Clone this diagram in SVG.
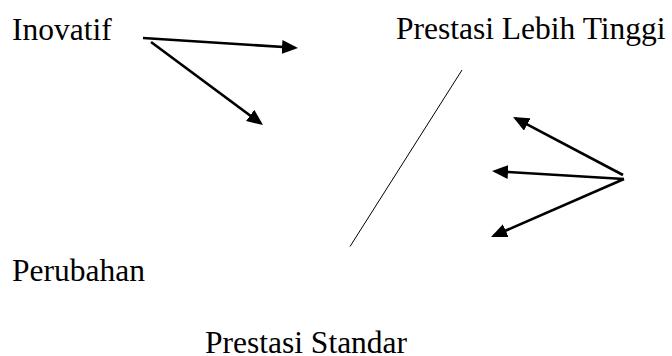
<svg xmlns="http://www.w3.org/2000/svg" width="672" height="356" viewBox="0 0 672 356">
<style>
.lbl{font-family:"Liberation Serif","Times New Roman",serif;font-size:31.5px;fill:#000}
.arr{stroke:#000;stroke-width:2.6;fill:none;marker-end:url(#ah)}
.thin{stroke:#000;stroke-width:1;fill:none}
</style>
<defs>
<marker id="ah" markerUnits="userSpaceOnUse" markerWidth="16" markerHeight="14" refX="13" refY="7" orient="auto">
<path d="M0,0 L16,7 L0,14 z" fill="#000"/>
</marker>
</defs>
<rect width="672" height="356" fill="#fff"/>
<g id="inovatif"><text class="lbl" x="12" y="40">Inovatif</text></g>
<g id="prestasi-lebih-tinggi"><text class="lbl" x="396" y="39">Prestasi Lebih Tinggi</text></g>
<g id="perubahan"><text class="lbl" x="12" y="281">Perubahan</text></g>
<g id="prestasi-standar"><text class="lbl" x="205" y="353">Prestasi Standar</text></g>
<g id="connectors">
<line class="arr" x1="143" y1="38" x2="295" y2="47.8"/>
<line class="arr" x1="151" y1="42" x2="260.6" y2="123.2"/>
<line class="thin" x1="462" y1="70" x2="350" y2="246.5"/>
<line class="arr" x1="623" y1="175" x2="515.7" y2="118.4"/>
<line class="arr" x1="624" y1="179" x2="495" y2="171.2"/>
<line class="arr" x1="624" y1="179" x2="493.8" y2="235.8"/>
</g>
</svg>
